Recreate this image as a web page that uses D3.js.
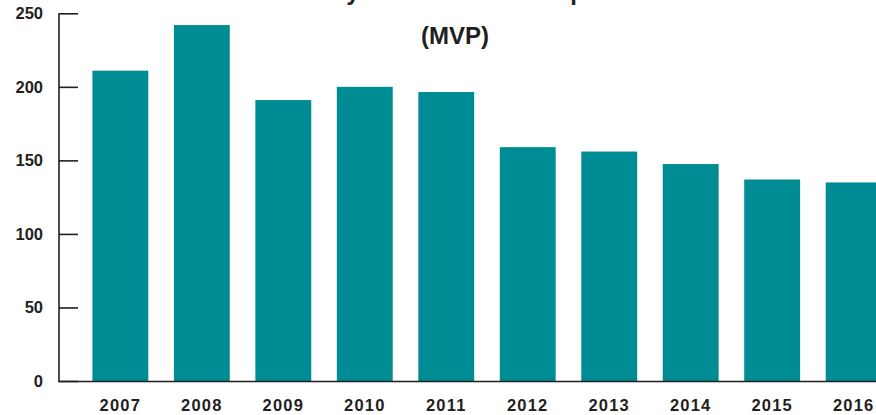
<!DOCTYPE html>
<html>
<head>
<meta charset="utf-8">
<script src="https://cdn.jsdelivr.net/npm/d3@7"></script>
<style>
  html, body { margin: 0; padding: 0; background: #fff; }
  svg { display: block; font-family: Arial, "Liberation Sans", Helvetica, sans-serif; }
</style>
</head>
<body>
<svg id="chart" width="876" height="415"></svg>
<script>
// Yearly values, 2007–2016
const years = ["2007", "2008", "2009", "2010", "2011", "2012", "2013", "2014", "2015", "2016"];
const values = [211, 242, 191, 200, 196.5, 159, 156, 147.5, 137, 135];
const yTicks = [0, 50, 100, 150, 200, 250];
const titleLines = ["Daily Motor Vehicle Output", "(MVP)"];

const width = 876, height = 415;
const margin = { left: 59, top: 13.3, bottom: 34 };
const barColor = "#008c94";
const inkColor = "#231f20";

const svg = d3.select("#chart");

const y = d3.scaleLinear()
  .domain([0, 250])
  .range([height - margin.bottom, margin.top]);

const x = d3.scaleBand()
  .domain(years)
  .range([margin.left, 915])
  .paddingInner(0.314)
  .paddingOuter(0.41);

// bars
svg.append("g")
  .selectAll("rect")
  .data(years.map((yr, i) => ({ yr, v: values[i] })))
  .join("rect")
  .attr("x", d => x(d.yr))
  .attr("y", d => y(d.v))
  .attr("width", x.bandwidth())
  .attr("height", d => y(0) - y(d.v))
  .attr("fill", barColor);

// value axis with inward ticks
const yAxis = svg.append("g")
  .attr("transform", `translate(${margin.left},0)`)
  .call(d3.axisRight(y).tickValues(yTicks).tickSize(19).tickFormat(""));
yAxis.select(".domain").remove();
yAxis.selectAll(".tick line").attr("stroke", inkColor).attr("stroke-width", 1.6);

svg.append("line")
  .attr("x1", margin.left).attr("x2", margin.left)
  .attr("y1", y(250)).attr("y2", y(0) + 1)
  .attr("stroke", inkColor).attr("stroke-width", 1.6);

svg.append("g")
  .selectAll("text")
  .data(yTicks)
  .join("text")
  .attr("x", 43)
  .attr("y", d => y(d))
  .attr("dy", "0.36em")
  .attr("text-anchor", "end")
  .attr("font-size", 16.5)
  .attr("font-weight", "bold")
  .attr("fill", inkColor)
  .text(d => d);

// category axis
svg.append("line")
  .attr("x1", margin.left - 0.8).attr("x2", width)
  .attr("y1", y(0) + 0.5).attr("y2", y(0) + 0.5)
  .attr("stroke", inkColor).attr("stroke-width", 1.6);

svg.append("g")
  .selectAll("text")
  .data(years)
  .join("text")
  .attr("x", d => x(d) + x.bandwidth() / 2)
  .attr("y", 411)
  .attr("text-anchor", "middle")
  .attr("font-size", 16.5)
  .attr("font-weight", "bold")
  .attr("letter-spacing", 1.2)
  .attr("fill", inkColor)
  .text(d => d);

// title (first line runs above the top edge)
svg.append("g")
  .selectAll("text")
  .data(titleLines)
  .join("text")
  .attr("x", 455)
  .attr("y", (d, i) => i === 0 ? 0 : 44)
  .attr("text-anchor", "middle")
  .attr("font-size", 24)
  .attr("font-weight", "bold")
  .attr("fill", inkColor)
  .text(d => d);
</script>
</body>
</html>
